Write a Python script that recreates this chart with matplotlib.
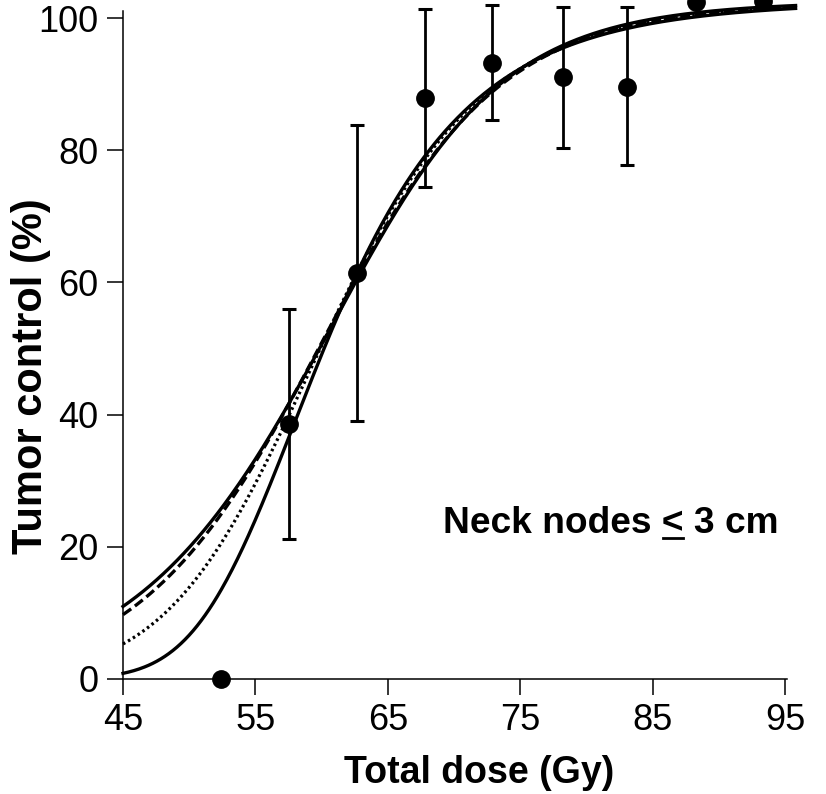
import numpy as np
import matplotlib
matplotlib.use("Agg")
import matplotlib.pyplot as plt
from matplotlib.lines import Line2D

plt.rcParams['font.family'] = ['Liberation Sans', 'DejaVu Sans']

# Observed tumour control per dose group (%)
dose_obs = [52.4, 57.5, 62.7, 67.8, 72.9, 78.2, 83.1, 88.3, 93.3]
control_obs = [0.0, 38.6, 61.4, 87.9, 93.2, 91.0, 89.6, 102.4, 102.6]

# Confidence limits for the groups that carry error bars
err_dose = [57.5, 62.7, 67.8, 72.9, 78.2, 83.1]
err_mid = [38.6, 61.4, 87.9, 93.2, 91.0, 89.6]
err_low = [21.2, 39.0, 74.4, 84.6, 80.4, 77.7]
err_high = [56.0, 83.8, 101.3, 102.0, 101.7, 101.6]

# Fitted dose-response models in log-dose:
# TCP = plateau * (1 + (D50 / D) ** slope) ** (-shape)
model_d50 = [66.2, 64.6, 60.2, 52.22]
model_slope = [11.55, 10.8, 10.0, 9.2]
model_shape = [0.5, 0.6, 1.0, 3.0]
plateau = 102.6

x_ticks = [45, 55, 65, 75, 85, 95]
y_ticks = [0, 20, 40, 60, 80, 100]

W, H = 826, 794
fig = plt.figure(figsize=(W / 100, H / 100), dpi=100)
ax = fig.add_axes([123 / W, 1 - 679 / H, (787 - 123) / W, (679 - 11.4) / H])

dose = np.linspace(45, 95.8, 500)
styles = [
    dict(linestyle='-', linewidth=2.4),
    dict(linestyle=(0, (3.0, 1.4)), linewidth=2.4),
    dict(linestyle=(0, (0.8, 1.0)), linewidth=2.3),
    dict(linestyle='-', linewidth=2.4),
]
for d50, s, nu, st in zip(model_d50, model_slope, model_shape, styles):
    tcp = plateau * (1.0 + (d50 / dose) ** s) ** (-nu)
    ax.plot(dose, tcp, color='black', clip_on=False, zorder=3, **st)

low = np.array(err_mid) - np.array(err_low)
high = np.array(err_high) - np.array(err_mid)
ax.errorbar(err_dose, err_mid, yerr=[low, high], fmt='none', ecolor='black',
            elinewidth=2.0, capsize=5, capthick=2.2, clip_on=False, zorder=4)
ax.plot(dose_obs, control_obs, 'o', color='black', markersize=12.5,
        clip_on=False, zorder=5)

ax.set_xlim(45, 95.15)
ax.set_ylim(0, 101)
ax.set_xticks(x_ticks)
ax.set_yticks(y_ticks)
ax.tick_params(direction='out', length=11.5, width=1.1, labelsize=26, pad=6,
               color='black')
for side in ('top', 'right'):
    ax.spines[side].set_visible(False)
for side in ('left', 'bottom'):
    ax.spines[side].set_linewidth(1.1)

fig.text(479 / W, 1 - 773 / H, 'Total dose (Gy)', fontsize=27,
         fontweight='bold', ha='center', va='center')
fig.text(31 / W, 1 - 376 / H, 'Tumor control (%)', fontsize=30,
         fontweight='bold', ha='center', va='center', rotation=90)

# Panel label with an underlined "<" (less than or equal)
label_x, label_base = 443, 533
note_kw = dict(fontsize=26.7, fontweight='bold', ha='left', va='baseline')
fig.text(label_x / W, 1 - label_base / H, 'Neck nodes < 3 cm', **note_kw)
renderer = fig.canvas.get_renderer()
probe_a = fig.text(0, 0, 'Neck nodes <', **note_kw)
probe_b = fig.text(0, 0, '<', **note_kw)
w_a = probe_a.get_window_extent(renderer).width
w_b = probe_b.get_window_extent(renderer).width
probe_a.remove()
probe_b.remove()
x1 = label_x + w_a
x0 = x1 - w_b
y_ul = label_base + 4.5
fig.add_artist(Line2D([(x0 + 1) / W, (x1 - 1) / W], [1 - y_ul / H, 1 - y_ul / H],
                      color='black', linewidth=2.0, transform=fig.transFigure))

fig.savefig('out.png', dpi=100)
